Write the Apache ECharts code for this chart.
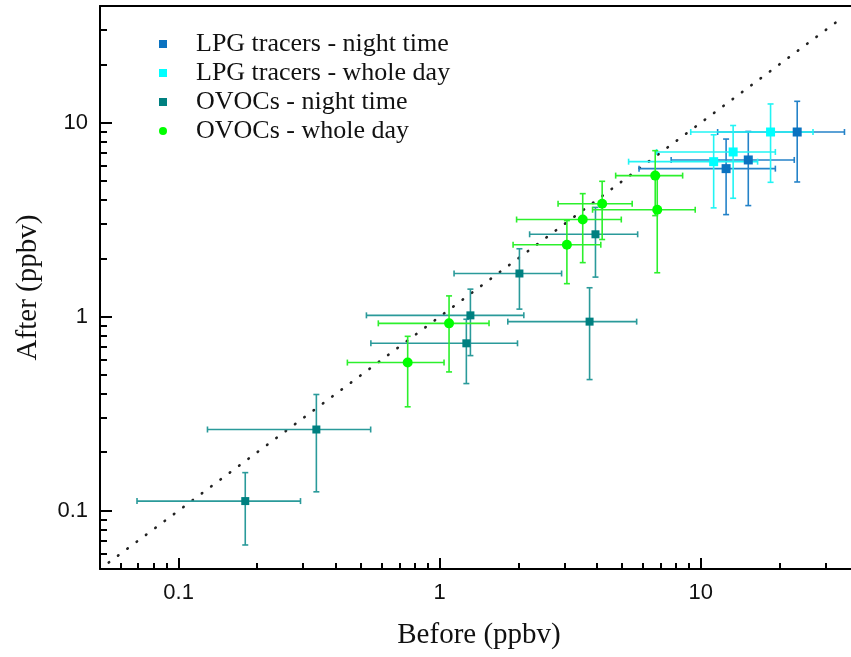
<!DOCTYPE html>
<html>
<head>
<meta charset="utf-8">
<script src="https://cdn.jsdelivr.net/npm/echarts@6/dist/echarts.min.js"></script>
<style>html,body{margin:0;padding:0;background:#fff}#chart{width:851px;height:657px}</style>
</head>
<body>
<div id="chart"></div>
<script>
// ---- data: [x, y, xLow, xHigh, yLow, yHigh] ----
const seriesNames = ['LPG tracers - night time', 'LPG tracers - whole day', 'OVOCs - night time', 'OVOCs - whole day'];
const lpgNight = [
  [12.5, 5.80, 5.80, 19.3, 3.36, 8.24],
  [15.2, 6.43, 7.70, 22.8, 3.74, 9.02],
  [23.4, 8.96, 11.6, 35.5, 4.95, 12.9]
];
const lpgDay = [
  [11.2, 6.30, 5.29, 16.5, 3.64, 8.67],
  [13.3, 7.07, 6.77, 19.3, 4.08, 9.68],
  [18.5, 8.96, 9.15, 26.9, 4.93, 12.5]
];
const ovocNight = [
  [0.180, 0.112, 0.0693, 0.293, 0.0665, 0.157],
  [0.337, 0.262, 0.129, 0.544, 0.125, 0.397],
  [1.265, 0.729, 0.545, 1.986, 0.452, 0.97],
  [1.311, 1.016, 0.524, 2.10, 0.630, 1.387],
  [2.02, 1.67, 1.135, 2.93, 1.094, 2.24],
  [3.75, 0.943, 1.823, 5.68, 0.474, 1.41],
  [3.95, 2.66, 2.21, 5.73, 1.60, 3.66]
];
const ovocDay = [
  [0.754, 0.580, 0.443, 1.039, 0.343, 0.792],
  [1.086, 0.924, 0.582, 1.545, 0.519, 1.28],
  [3.07, 2.35, 1.91, 4.14, 1.48, 3.13],
  [3.53, 3.17, 1.97, 4.96, 1.90, 4.31],
  [4.19, 3.82, 2.84, 5.46, 2.50, 4.99],
  [6.81, 3.56, 3.85, 9.52, 1.685, 5.3],
  [6.69, 5.34, 4.72, 8.52, 3.32, 7.18]
];
const oneToOne = [0.054, 35.2];
const majorTicks = [0.1, 1, 10];
const minorTicks = [0.06, 0.07, 0.08, 0.09, 0.2, 0.3, 0.4, 0.5, 0.6, 0.7, 0.8, 0.9,
  2, 3, 4, 5, 6, 7, 8, 9, 20, 30];
const axisMin = 0.05, axisMax = 40;

// ---- styling ----
const colors = ['#0a72c0', '#00ffff', '#008080', '#00ff00'];
const barColors = ['#2482c8', '#22f4f4', '#2a9a9a', '#2cf02c'];
const symbols = ['rect', 'rect', 'rect', 'circle'];
const symbolSizes = [9, 9, 8, 10];
const datasets = [lpgNight, lpgDay, ovocNight, ovocDay];
const sansFont = '"Liberation Sans", Arial, sans-serif';
const serifFont = '"Liberation Serif", "Times New Roman", serif';

function errorBarRenderer(color) {
  return function (params, api) {
    const x = api.value(0), y = api.value(1);
    const pL = api.coord([api.value(2), y]);
    const pR = api.coord([api.value(3), y]);
    const pT = api.coord([x, api.value(5)]);
    const pB = api.coord([x, api.value(4)]);
    const c = 3;
    const st = { stroke: color, lineWidth: 1.6 };
    const ln = (x1, y1, x2, y2) => ({ type: 'line', shape: { x1, y1, x2, y2 }, style: st });
    return {
      type: 'group',
      children: [
        ln(pL[0], pL[1], pR[0], pR[1]),
        ln(pT[0], pT[1], pB[0], pB[1]),
        ln(pL[0], pL[1] - c, pL[0], pL[1] + c),
        ln(pR[0], pR[1] - c, pR[0], pR[1] + c),
        ln(pT[0] - c, pT[1], pT[0] + c, pT[1]),
        ln(pB[0] - c, pB[1], pB[0] + c, pB[1])
      ]
    };
  };
}

const series = [];
series.push({
  type: 'line', name: '1:1', xAxisIndex: 0, yAxisIndex: 0,
  data: oneToOne.map(v => [v, v]), symbol: 'none', silent: true, z: 1,
  lineStyle: { color: '#222', width: 2.6, type: [0.5, 11.1], cap: 'round' }
});
datasets.forEach((d, i) => {
  series.push({
    type: 'custom', name: 'err-' + i, xAxisIndex: 0, yAxisIndex: 0,
    data: d, renderItem: errorBarRenderer(barColors[i]), z: 2, silent: true
  });
});
datasets.forEach((d, i) => {
  series.push({
    type: 'scatter', name: seriesNames[i], xAxisIndex: 0, yAxisIndex: 0,
    data: d.map(r => [r[0], r[1]]), symbol: symbols[i], symbolSize: symbolSizes[i],
    itemStyle: { color: colors[i], opacity: 1 }, z: 3
  });
});

const gridBox = { left: 100, right: -7, top: 6, bottom: 88, outerBoundsMode: 'none', containLabel: false };
const labelStyle = { color: '#111', fontSize: 22, fontFamily: sansFont };

const option = {
  backgroundColor: '#fff',
  animation: false,
  grid: [Object.assign({}, gridBox), Object.assign({}, gridBox)],
  legend: {
    orient: 'vertical', left: 154, top: 26, itemGap: 3,
    itemWidth: 8, itemHeight: 8,
    data: seriesNames.map((n, i) => ({ name: n, icon: symbols[i] === 'circle' ? 'circle' : 'rect' })),
    textStyle: { fontFamily: serifFont, fontSize: 26, color: '#111', padding: [0, 0, 0, 24] }
  },
  xAxis: [
    {
      type: 'log', gridIndex: 0, position: 'bottom', min: axisMin, max: axisMax,
      name: 'Before (ppbv)', nameLocation: 'middle', nameGap: 52,
      nameTextStyle: { fontFamily: serifFont, fontSize: 29, color: '#111' },
      axisLine: { show: true, onZero: false, lineStyle: { color: '#000', width: 2 } },
      axisTick: { show: true, inside: true, length: 11, customValues: majorTicks, lineStyle: { color: '#000', width: 2 } },
      axisLabel: { show: true, margin: 13, customValues: majorTicks, ...labelStyle },
      splitLine: { show: false }, minorTick: { show: false }
    },
    {
      type: 'log', gridIndex: 0, position: 'top', min: axisMin, max: axisMax,
      axisLine: { show: true, onZero: false, lineStyle: { color: '#000', width: 2 } },
      axisTick: { show: false }, axisLabel: { show: false }, splitLine: { show: false }
    },
    {
      type: 'log', gridIndex: 1, position: 'bottom', min: axisMin, max: axisMax,
      axisLine: { show: false, onZero: false },
      axisTick: { show: true, inside: true, length: 6, customValues: minorTicks, lineStyle: { color: '#000', width: 2 } },
      axisLabel: { show: false }, splitLine: { show: false }
    }
  ],
  yAxis: [
    {
      type: 'log', gridIndex: 0, position: 'left', min: axisMin, max: axisMax,
      name: 'After (ppbv)', nameLocation: 'middle', nameGap: 57,
      nameTextStyle: { fontFamily: serifFont, fontSize: 29, color: '#111' },
      axisLine: { show: true, onZero: false, lineStyle: { color: '#000', width: 2 } },
      axisTick: { show: true, inside: true, length: 12, customValues: majorTicks, lineStyle: { color: '#000', width: 2 } },
      axisLabel: { show: true, margin: 12, customValues: majorTicks, ...labelStyle },
      splitLine: { show: false }, minorTick: { show: false }
    },
    {
      type: 'log', gridIndex: 1, position: 'left', min: axisMin, max: axisMax,
      axisLine: { show: false, onZero: false },
      axisTick: { show: true, inside: true, length: 7, customValues: minorTicks, lineStyle: { color: '#000', width: 2 } },
      axisLabel: { show: false }, splitLine: { show: false }
    }
  ],
  series: series
};

const chart = echarts.init(document.getElementById('chart'), null, { renderer: 'canvas' });
chart.setOption(option);
</script>
</body>
</html>
